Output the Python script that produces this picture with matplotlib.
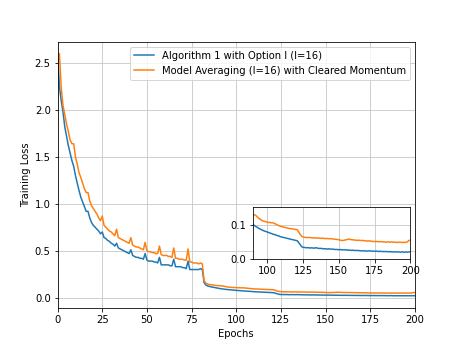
import matplotlib
matplotlib.use("Agg")
import matplotlib.pyplot as plt
import numpy as np

# Training loss per epoch (0..200).
alg1_loss = [
    2.60, 2.25, 2.10, 1.98, 1.82, 1.72, 1.62, 1.54, 1.46, 1.40,
    1.30, 1.22, 1.14, 1.07, 1.02, 0.97, 0.92, 0.92, 0.85, 0.80,
    0.77, 0.75, 0.73, 0.71, 0.68, 0.70, 0.64, 0.63, 0.61, 0.60,
    0.58, 0.57, 0.55, 0.58, 0.53, 0.52, 0.51, 0.50, 0.49, 0.48,
    0.47, 0.51, 0.45, 0.44, 0.43, 0.43, 0.42, 0.42, 0.41, 0.47,
    0.40, 0.39, 0.39, 0.39, 0.38, 0.38, 0.37, 0.43, 0.35, 0.35,
    0.35, 0.35, 0.35, 0.34, 0.34, 0.41, 0.33, 0.33, 0.33, 0.33,
    0.32, 0.32, 0.31, 0.39, 0.30, 0.30, 0.30, 0.30, 0.30, 0.30,
    0.31, 0.30, 0.16, 0.135, 0.125, 0.12, 0.115, 0.112, 0.108, 0.104,
    0.100, 0.097, 0.094, 0.092, 0.089, 0.087, 0.085, 0.083, 0.081, 0.080,
    0.078, 0.077, 0.075, 0.074, 0.072, 0.071, 0.070, 0.068, 0.067, 0.065,
    0.064, 0.063, 0.062, 0.061, 0.060, 0.059, 0.058, 0.057, 0.056, 0.055,
    0.054, 0.053, 0.047, 0.042, 0.036, 0.034, 0.034, 0.033, 0.033, 0.033,
    0.032, 0.033, 0.032, 0.032, 0.033, 0.032, 0.031, 0.031, 0.031, 0.030,
    0.030, 0.030, 0.029, 0.030, 0.029, 0.029, 0.029, 0.028, 0.028, 0.028,
    0.027, 0.028, 0.027, 0.027, 0.027, 0.027, 0.026, 0.026, 0.026, 0.025,
    0.026, 0.025, 0.025, 0.025, 0.025, 0.024, 0.024, 0.024, 0.024, 0.024,
    0.023, 0.024, 0.024, 0.023, 0.023, 0.023, 0.023, 0.023, 0.022, 0.023,
    0.022, 0.022, 0.022, 0.022, 0.022, 0.021, 0.022, 0.021, 0.021, 0.021,
    0.021, 0.021, 0.021, 0.020, 0.021, 0.021, 0.020, 0.021, 0.020, 0.021,
    0.021,
]
avg_loss = [
    2.60, 2.60, 2.24, 2.05, 1.95, 1.85, 1.77, 1.68, 1.64, 1.64,
    1.50, 1.42, 1.33, 1.28, 1.22, 1.16, 1.12, 1.12, 1.03, 0.98,
    0.95, 0.92, 0.89, 0.85, 0.82, 0.87, 0.77, 0.75, 0.73, 0.71,
    0.70, 0.68, 0.66, 0.73, 0.64, 0.63, 0.62, 0.61, 0.60, 0.59,
    0.58, 0.64, 0.56, 0.55, 0.54, 0.54, 0.53, 0.52, 0.51, 0.59,
    0.50, 0.49, 0.49, 0.48, 0.48, 0.47, 0.47, 0.55, 0.46, 0.45,
    0.45, 0.45, 0.44, 0.44, 0.43, 0.53, 0.42, 0.42, 0.41, 0.41,
    0.41, 0.40, 0.40, 0.52, 0.38, 0.38, 0.37, 0.37, 0.37, 0.36,
    0.37, 0.36, 0.18, 0.155, 0.145, 0.14, 0.138, 0.135, 0.132, 0.130,
    0.129, 0.128, 0.126, 0.122, 0.118, 0.115, 0.112, 0.110, 0.109, 0.108,
    0.107, 0.106, 0.106, 0.105, 0.105, 0.103, 0.101, 0.099, 0.097, 0.095,
    0.094, 0.093, 0.092, 0.091, 0.090, 0.089, 0.088, 0.088, 0.087, 0.086,
    0.086, 0.085, 0.078, 0.071, 0.066, 0.064, 0.063, 0.063, 0.062, 0.063,
    0.062, 0.062, 0.061, 0.062, 0.061, 0.061, 0.061, 0.060, 0.061, 0.060,
    0.060, 0.059, 0.060, 0.059, 0.059, 0.059, 0.058, 0.058, 0.057, 0.057,
    0.056, 0.055, 0.054, 0.054, 0.055, 0.056, 0.057, 0.058, 0.057, 0.056,
    0.056, 0.055, 0.055, 0.054, 0.055, 0.054, 0.054, 0.054, 0.053, 0.053,
    0.052, 0.053, 0.052, 0.052, 0.051, 0.051, 0.051, 0.051, 0.050, 0.051,
    0.050, 0.050, 0.050, 0.049, 0.050, 0.050, 0.049, 0.050, 0.049, 0.049,
    0.049, 0.048, 0.049, 0.049, 0.048, 0.049, 0.048, 0.049, 0.050, 0.054,
    0.055,
]
epochs = np.arange(len(alg1_loss))
assert len(alg1_loss) == len(avg_loss) == 201

labels = [
    "Algorithm 1 with Option I (I=16)",
    "Model Averaging (I=16) with Cleared Momentum",
]

plt.rcParams["grid.color"] = "#c4c4c4"

fig = plt.figure(figsize=(461 / 72, 346 / 72), dpi=72)
ax = fig.add_subplot(111)
ax.plot(epochs, alg1_loss, color="C0", label=labels[0])
ax.plot(epochs, avg_loss, color="C1", label=labels[1])
ax.set_xlim(0, 200)
ax.set_xlabel("Epochs")
ax.set_ylabel("Training Loss")
ax.grid(True)
ax.legend(loc="upper right")

# zoomed inset for the tail of training
ins = fig.add_axes([0.549, 0.251, 0.341, 0.150])
ins.plot(epochs, alg1_loss, color="C0")
ins.plot(epochs, avg_loss, color="C1")
ins.set_xlim(90, 200)
ins.set_ylim(0, 0.15)
ins.set_xticks([100, 125, 150, 175, 200])
ins.set_yticks([0.0, 0.1])
ins.grid(True)

fig.savefig("out.png", dpi=72)
